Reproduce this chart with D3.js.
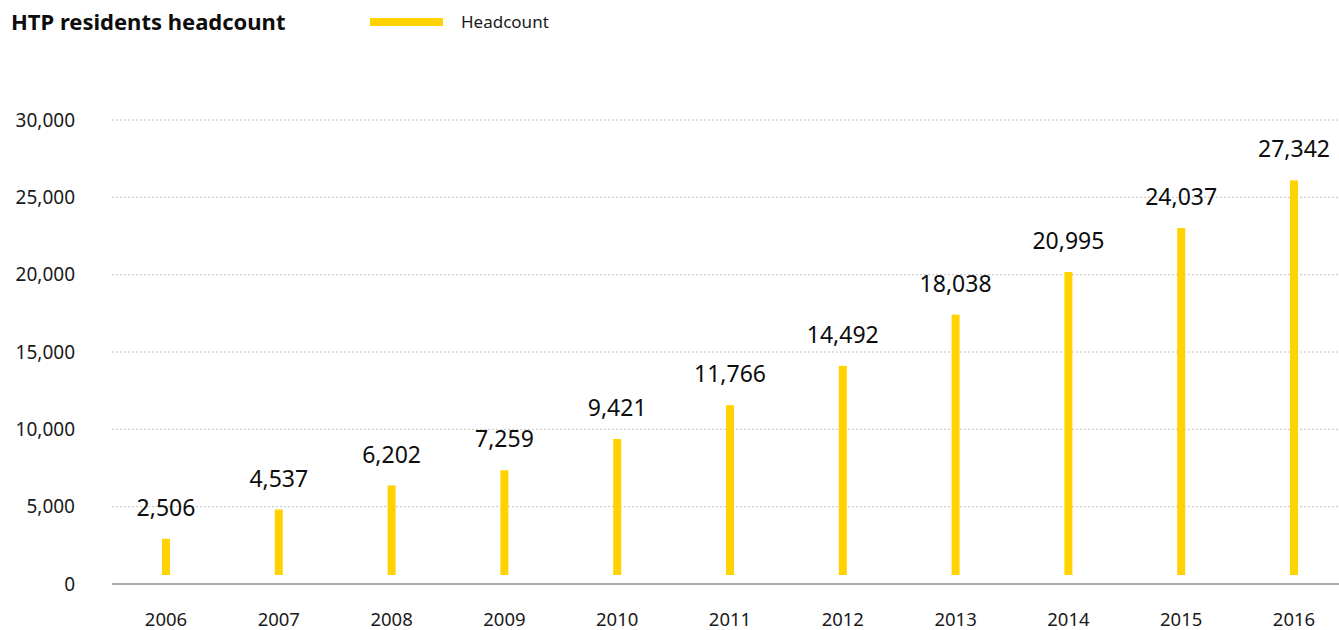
<!DOCTYPE html>
<html><head><meta charset="utf-8">
<script src="https://cdn.jsdelivr.net/npm/d3@7"></script>
<style>body{margin:0;background:#fff}svg{display:block}text{font-family:"Noto Sans",sans-serif}</style>
</head><body><svg id="c" width="1339" height="630"></svg>
<script>
const years = ["2006","2007","2008","2009","2010","2011","2012","2013","2014","2015","2016"];
const headcount = [2506,4537,6202,7259,9421,11766,14492,18038,20995,24037,27342];
const yTicks = [0,5000,10000,15000,20000,25000,30000];
const seriesName = "Headcount";
const title = "HTP residents headcount";

const svg = d3.select("#c");
const fmt = d3.format(",");
const x = d3.scalePoint().domain(years).range([166,1294]);
const y = d3.scaleLinear().domain([0,30000]).range([584,120]);
// bars in the source are drawn on their own slightly compressed scale, rising from just above the axis
const yBar = d3.scaleLinear().domain([0,30000]).range([575,142]);

// gridlines
svg.append("g").selectAll("line").data(yTicks.filter(d=>d>0)).join("line")
  .attr("x1",112).attr("x2",1339).attr("y1",d=>y(d)).attr("y2",d=>y(d))
  .attr("stroke","#c4c4c4").attr("stroke-width",1).attr("stroke-dasharray","2,2");
// axis line
svg.append("line").attr("x1",112).attr("x2",1339).attr("y1",y(0)).attr("y2",y(0))
  .attr("stroke","#555").attr("stroke-width",1.2);

// y tick labels
svg.append("g").selectAll("text").data(yTicks).join("text")
  .attr("x",75).attr("y",d=>y(d)).attr("dy","0.35em").attr("text-anchor","end")
  .attr("font-size",19).attr("fill","#1a1a1a").text(d=>fmt(d));

// x labels
svg.append("g").selectAll("text").data(years).join("text")
  .attr("x",d=>x(d)).attr("y",620).attr("dy","0.35em").attr("text-anchor","middle")
  .attr("font-size",18.5).attr("fill","#1a1a1a").text(d=>d);

// bars
const data = years.map((yr,i)=>({yr, v:headcount[i]}));
svg.append("g").selectAll("rect").data(data).join("rect")
  .attr("x",d=>x(d.yr)-4).attr("width",8)
  .attr("y",d=>yBar(d.v)).attr("height",d=>yBar(0)-yBar(d.v))
  .attr("fill","#ffd200");

// value labels
svg.append("g").selectAll("text").data(data).join("text")
  .attr("x",d=>x(d.yr)).attr("y",d=>yBar(d.v)-31).attr("dy","0.35em").attr("text-anchor","middle")
  .attr("font-size",23).attr("fill","#0d0d0d").text(d=>fmt(d.v));

// title
svg.append("text").attr("x",11).attr("y",22).attr("dy","0.35em")
  .attr("font-size",22).attr("font-weight","bold").attr("fill","#0d0d0d").text(title);
// legend
svg.append("rect").attr("x",370).attr("y",18).attr("width",73).attr("height",8).attr("fill","#ffd200");
svg.append("text").attr("x",461).attr("y",22).attr("dy","0.35em")
  .attr("font-size",17).attr("fill","#1a1a1a").text(seriesName);
</script></body></html>
